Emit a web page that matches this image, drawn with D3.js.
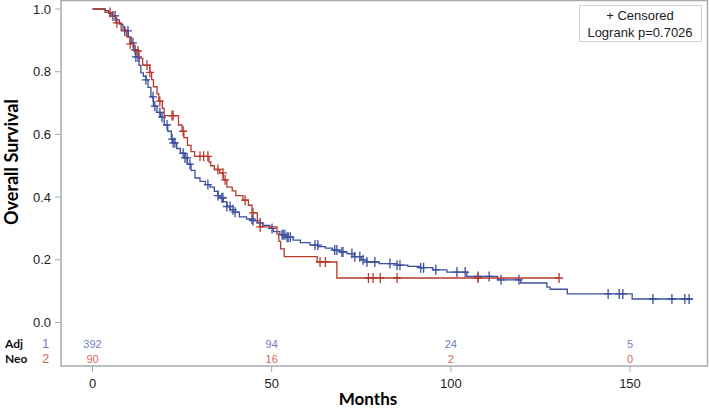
<!DOCTYPE html>
<html>
<head>
<meta charset="utf-8">
<script src="https://cdn.jsdelivr.net/npm/d3@7"></script>
<style>
  body { margin: 0; background: #fff; }
  svg { display: block; }
  .tick-label { font-family: "Liberation Sans", Arial, sans-serif; font-size: 13px; fill: #222; }
</style>
</head>
<body>
<div id="chart"></div>
<script>

// Kaplan-Meier steps: [months, survival after the drop]
var adjSteps = [[0,1.0],[3.5,0.995],[4.5,0.985],[5.5,0.978],[6.5,0.965],[7.5,0.952],[8.5,0.94],[9,0.93],
  [10,0.91],[10.8,0.892],[11.5,0.87],[12.1,0.847],[13,0.82],[13.5,0.796],[14.2,0.785],[14.9,0.774],
  [15.5,0.75],[16.3,0.72],[17,0.69],[18,0.67],[19,0.655],[20,0.63],[21,0.61],[22,0.585],[22.5,0.573],
  [23.5,0.555],[24.5,0.54],[25.8,0.525],[26.5,0.505],[27.5,0.485],[28.6,0.461],[30,0.45],[31.5,0.44],
  [32.8,0.432],[34,0.418],[35,0.405],[35.6,0.398],[36.5,0.385],[37.5,0.37],[38.5,0.36],[39.3,0.352],
  [41,0.337],[43,0.33],[44.8,0.325],[46,0.318],[47.5,0.31],[49.5,0.30],[50.5,0.29],[52.3,0.28],
  [54,0.272],[56,0.263],[58,0.255],[60.7,0.247],[63,0.242],[65,0.237],[67,0.231],[69,0.225],[71,0.22],
  [73,0.21],[75,0.2],[76.5,0.193],[80,0.188],[85,0.183],[88,0.179],[91.4,0.175],[95,0.168],[98.9,0.161],
  [104.5,0.147],[113,0.136],[119.5,0.126],[126.8,0.113],[127.7,0.106],[132.5,0.091],[150.6,0.075]];
var adjEnd = 167.3;

var neoSteps = [[0,1.0],[3.5,0.989],[5,0.978],[6.5,0.956],[8,0.933],[9.5,0.911],[10.5,0.889],[11.5,0.866],
  [13,0.843],[14,0.821],[16,0.798],[16.5,0.775],[17,0.752],[18,0.729],[18.5,0.706],[19.5,0.683],[20,0.66],
  [24,0.63],[25,0.61],[25.5,0.59],[26.5,0.565],[27.5,0.545],[28.5,0.53],[32.5,0.512],[33,0.50],
  [34,0.488],[35.5,0.477],[36.5,0.455],[37.5,0.432],[39,0.42],[40,0.405],[42,0.39],[43.5,0.374],
  [44.5,0.35],[46,0.325],[46.8,0.305],[51.5,0.282],[52,0.259],[52.5,0.235],[53.5,0.21],[62.7,0.193],
  [68.2,0.142]];
var neoEnd = 130.2;

// censored times
var adjCensor = [5.7,6.3,9,9.9,11.3,11.9,12.1,12.7,14.9,16.9,17.4,18.8,19.4,20.8,22.2,22.5,23,25.3,25.8,
  26.4,27.2,32.2,35,36.1,36.4,37.5,38.4,39.2,39.8,44.5,44.8,46.8,50.1,52.9,53.2,53.7,54.3,54.6,55.2,
  62.1,62.9,67.6,68.2,69.6,69.9,72.4,73.2,74.6,75.5,76.6,78.8,83,85,85.8,91.6,92.4,95.8,101.7,104,
  107.6,110.7,114,119,143.9,147,148,156.4,161.7,165.3,166.5];
var neoCensor = [4.9,6.8,10.5,12.7,15.2,16,18.8,22.2,22.5,25.3,30,31,32.2,35,36.4,37,42.6,44.8,46.8,
  63.5,65,77,78.3,80.3,85,107.6,130.2];

// number at risk table
var riskTimes = [0, 50, 100, 150];
var adjRisk = [392, 94, 24, 5];
var neoRisk = [90, 16, 2, 0];

var xTicks = [0, 50, 100, 150];
var yTicks = [0, 0.2, 0.4, 0.6, 0.8, 1.0];

var blue = "#3a4f9e", red = "#b83a2c",
    blueLight = "#6f80be", redLight = "#cc6a5d",
    frameColor = "#a7abaf";

var width = 709, height = 411;
var svg = d3.select("#chart").append("svg").attr("width", width).attr("height", height);

var x = d3.scaleLinear().domain([0, 150]).range([92.5, 630]),
    y = d3.scaleLinear().domain([0, 1]).range([322.5, 9]);

// plot frame
svg.append("rect")
   .attr("x", 61).attr("y", 0.5)
   .attr("width", 707.5 - 61).attr("height", 366 - 0.5)
   .attr("fill", "none").attr("stroke", frameColor).attr("stroke-width", 1.5);

// y axis ticks + labels
var yAxis = svg.append("g");
yAxis.selectAll("line").data(yTicks).enter().append("line")
     .attr("x1", 55).attr("x2", 61)
     .attr("y1", function(d) { return y(d); }).attr("y2", function(d) { return y(d); })
     .attr("stroke", frameColor);
yAxis.selectAll("text").data(yTicks).enter().append("text")
     .attr("class", "tick-label")
     .attr("x", 51).attr("y", function(d) { return y(d) + 4.5; })
     .attr("text-anchor", "end")
     .text(function(d) { return d3.format(".1f")(d); });

// x axis ticks + labels
var xAxis = svg.append("g");
xAxis.selectAll("line").data(xTicks).enter().append("line")
     .attr("x1", function(d) { return x(d); }).attr("x2", function(d) { return x(d); })
     .attr("y1", 366).attr("y2", 372)
     .attr("stroke", frameColor);
xAxis.selectAll("text").data(xTicks).enter().append("text")
     .attr("class", "tick-label")
     .attr("x", function(d) { return x(d); }).attr("y", 388)
     .attr("text-anchor", "middle")
     .text(function(d) { return d; });

// axis titles
svg.append("text")
   .attr("transform", "translate(18,162) rotate(-90)")
   .attr("text-anchor", "middle")
   .style("font-family", "Lato, 'Open Sans', sans-serif")
   .style("font-weight", "bold").style("font-size", "18px")
   .text("Overall Survival");

svg.append("text")
   .attr("x", 368).attr("y", 405)
   .attr("text-anchor", "middle")
   .style("font-family", "Lato, 'Open Sans', sans-serif")
   .style("font-weight", "bold").style("font-size", "17px")
   .text("Months");

// survival curves
var line = d3.line()
             .x(function(d) { return x(d[0]); })
             .y(function(d) { return y(d[1]); })
             .curve(d3.curveStepAfter);

function survAt(steps, t) {
  var s = steps[0][1];
  steps.forEach(function(d) { if (d[0] <= t) s = d[1]; });
  return s;
}

function drawCurve(steps, endT, censor, color) {
  var pts = steps.concat([[endT, steps[steps.length - 1][1]]]);
  svg.append("path")
     .datum(pts)
     .attr("d", line)
     .attr("fill", "none")
     .attr("stroke", color)
     .attr("stroke-width", 1.3);

  var g = svg.append("g");
  g.selectAll("path").data(censor).enter().append("path")
   .attr("d", function(t) {
      var cx = x(t), cy = y(survAt(steps, t));
      return "M" + (cx - 4) + "," + cy + "H" + (cx + 4) + "M" + cx + "," + (cy - 5) + "V" + (cy + 5);
   })
   .attr("stroke", color)
   .attr("stroke-width", 1.3)
   .attr("fill", "none");
}

drawCurve(adjSteps, adjEnd, adjCensor, blue);
drawCurve(neoSteps, neoEnd, neoCensor, red);

// number at risk
var riskFont = "'Liberation Sans', Arial, sans-serif";
svg.selectAll(".risk-adj").data(adjRisk).enter().append("text")
   .attr("x", function(d, i) { return x(riskTimes[i]); }).attr("y", 348)
   .attr("text-anchor", "middle")
   .style("font-family", riskFont).style("font-size", "11px")
   .attr("fill", blueLight)
   .text(function(d) { return d; });
svg.selectAll(".risk-neo").data(neoRisk).enter().append("text")
   .attr("x", function(d, i) { return x(riskTimes[i]); }).attr("y", 363)
   .attr("text-anchor", "middle")
   .style("font-family", riskFont).style("font-size", "11px")
   .attr("fill", redLight)
   .text(function(d) { return d; });

var groups = [{name: "Adj", num: "1", color: blueLight, y: 348},
              {name: "Neo", num: "2", color: redLight, y: 363}];
groups.forEach(function(gr) {
  svg.append("text").attr("x", 5).attr("y", gr.y)
     .style("font-family", "Lato, sans-serif").style("font-weight", "bold").style("font-size", "12px")
     .attr("fill", "#111").text(gr.name);
  svg.append("text").attr("x", 42).attr("y", gr.y)
     .style("font-family", riskFont).style("font-size", "13px")
     .attr("fill", gr.color).text(gr.num);
});

// legend box
svg.append("rect")
   .attr("x", 579.5).attr("y", 5.5).attr("width", 122).attr("height", 36)
   .attr("fill", "#fff").attr("stroke", "#cfd1d3");
svg.append("text").attr("x", 640).attr("y", 20).attr("text-anchor", "middle")
   .attr("class", "tick-label").text("+ Censored");
svg.append("text").attr("x", 640).attr("y", 37).attr("text-anchor", "middle")
   .attr("class", "tick-label").text("Logrank p=0.7026");

</script>
</body>
</html>
